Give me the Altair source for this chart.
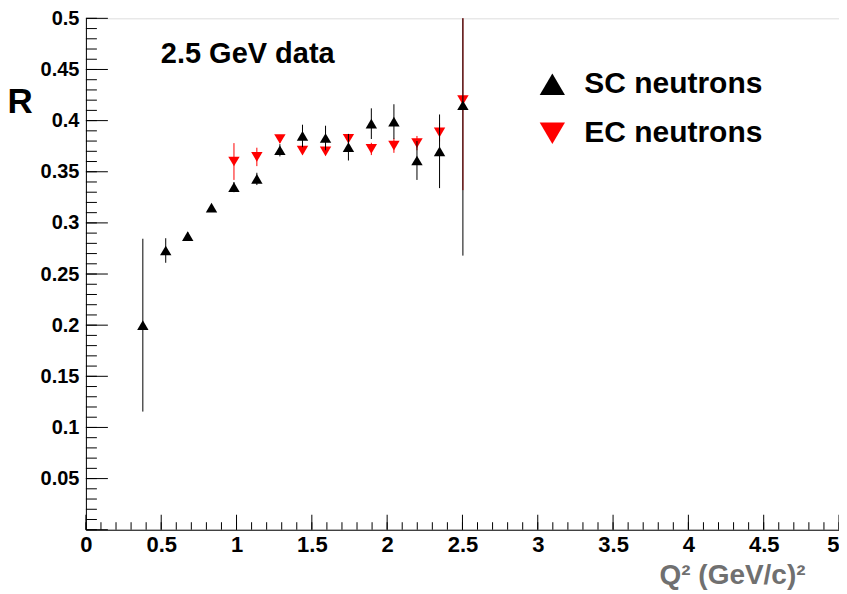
import altair as alt
import pandas as pd

# ---- data ----
q2 = [0.378, 0.530, 0.676, 0.834, 0.983, 1.135, 1.288, 1.438, 1.591, 1.743,
      1.895, 2.045, 2.198, 2.348, 2.503]
sc_r = [0.200, 0.273, 0.287, 0.315, 0.335, 0.343, 0.371, 0.385, 0.383, 0.374,
        0.397, 0.399, 0.361, 0.370, 0.415]
sc_err = [0.0845, 0.012, 0.004, 0.003, 0.005, 0.006, 0.006, 0.011, 0.012, 0.013,
          0.015, 0.017, 0.019, 0.036, 0.147]
ec_q2 = [0.983, 1.135, 1.288, 1.438, 1.591, 1.743, 1.895, 2.045, 2.198, 2.348, 2.503]
ec_r = [0.360, 0.3645, 0.382, 0.3706, 0.370, 0.3823, 0.3723, 0.3755, 0.378, 0.3885, 0.420]
ec_err = [0.018, 0.009, 0.004, 0.004, 0.004, 0.004, 0.006, 0.007, 0.007, 0.009, 0.088]

series_names = ["SC neutrons", "EC neutrons"]
series_colors = ["#000000", "#ff0000"]
tri_up = "M-1,0.85L0,-0.85L1,0.85Z"
tri_down = "M-1,-0.85L0,0.85L1,-0.85Z"

title_text = "2.5 GeV data"
x_title = "Q\u00b2 (GeV/c)\u00b2"
y_title = "R"

x_major = [0, 0.5, 1, 1.5, 2, 2.5, 3, 3.5, 4, 4.5, 5]
x_minor = [round(i * 0.1, 2) for i in range(51)]
y_major = [0, 0.05, 0.1, 0.15, 0.2, 0.25, 0.3, 0.35, 0.4, 0.45, 0.5]
y_minor = [round(i * 0.01, 3) for i in range(51)]

# ---- tables ----
rows = []
for x, r, e in zip(q2, sc_r, sc_err):
    rows.append({"series": series_names[0], "q2": x, "r": r, "lo": r - e, "hi": r + e})
for x, r, e in zip(ec_q2, ec_r, ec_err):
    rows.append({"series": series_names[1], "q2": x, "r": r, "lo": r - e, "hi": r + e})
df = pd.DataFrame(rows)
df_sc = df[df.series == series_names[0]]
df_ec = df[df.series == series_names[1]]

W, H = 754, 512
xs = alt.Scale(domain=[0, 5], nice=False, zero=False)
ys = alt.Scale(domain=[0, 0.5], nice=False, zero=False)

FONT = "Liberation Sans"

legend = alt.Legend(
    orient="none", legendX=452, legendY=51, title=None,
    symbolSize=640, labelFontSize=30, labelFontWeight="bold", labelFont=FONT,
    labelColor="black", rowPadding=19, labelOffset=17, padding=0,
    symbolStrokeWidth=0, labelLimit=400,
)

color = alt.Color("series:N", scale=alt.Scale(domain=series_names, range=series_colors), legend=legend)
shape = alt.Shape("series:N", scale=alt.Scale(domain=series_names, range=[tri_up, tri_down]), legend=legend)

x_axis = alt.Axis(
    values=x_major, format=".1~f", ticks=False, grid=False, labelFlush=False,
    labelAlign={"condition": {"test": "datum.value >= 5", "value": "right"}, "value": "center"},
    labelFont=FONT, labelFontSize=22, labelFontWeight="bold", labelColor="black",
    labelPadding=5, labelBaseline="top",
    title=x_title, titleFont=FONT, titleFontSize=28, titleFontWeight="bold",
    titleColor="#707070", titleAnchor="end", titleAlign="right", titleX=720,
    titleY=54, titleBaseline="alphabetic",
    domainColor="black", domainWidth=1,
)
y_axis = alt.Axis(
    values=y_major, format=".2~f", ticks=False, grid=False, labelFlush=False,
    labelExpr="datum.value == 0 ? '' : datum.label",
    labelFont=FONT, labelFontSize=20, labelFontWeight="bold", labelColor="black",
    labelPadding=7, labelBaseline="middle",
    title=y_title, titleFont=FONT, titleFontSize=35, titleFontWeight="bold",
    titleColor="black", titleAngle=0, titleAlign="left", titleX=-79, titleY=94,
    titleBaseline="alphabetic",
    domainColor="black", domainWidth=1,
)

# tick marks pointing inward (ROOT style)
def yticks(vals, length):
    return alt.Chart(pd.DataFrame({"v": vals})).mark_rule(color="black", strokeWidth=1).encode(
        y=alt.Y("v:Q", scale=ys, axis=y_axis), x=alt.value(0), x2=alt.value(length))

def xticks(vals, length):
    return alt.Chart(pd.DataFrame({"v": vals})).mark_rule(color="black", strokeWidth=1).encode(
        x=alt.X("v:Q", scale=xs, axis=x_axis), y=alt.value(H), y2=alt.value(H - length))

def errs(d, col):
    return alt.Chart(d).mark_rule(color=col, strokeWidth=1, clip=True).encode(
        x=alt.X("q2:Q", scale=xs, axis=x_axis),
        y=alt.Y("lo:Q", scale=ys, axis=y_axis), y2="hi:Q")

def pts(d):
    return alt.Chart(d).mark_point(filled=True, size=130, opacity=1, strokeWidth=0).encode(
        x=alt.X("q2:Q", scale=xs, axis=x_axis),
        y=alt.Y("r:Q", scale=ys, axis=y_axis),
        color=color, shape=shape,
    )

label = alt.Chart(pd.DataFrame({"t": [title_text]})).mark_text(
    font=FONT, fontSize=29, fontWeight="bold", color="black", align="left", baseline="alphabetic"
).encode(x=alt.value(75), y=alt.value(45), text="t:N")

chart = alt.layer(
    yticks(y_minor, 11), yticks(y_major, 22), xticks(x_minor, 7.5), xticks(x_major, 15),
    errs(df_ec, "red"), pts(df_ec), errs(df_sc, "black"), pts(df_sc), label,
).properties(
    width=W, height=H,
    autosize=alt.AutoSizeParams(type="none"),
    padding={"left": 78, "top": 10, "right": 0, "bottom": 60},
).configure_view(stroke="black", strokeWidth=1).configure(background="white")

chart.save("out.html", embed_options={"renderer": "svg", "actions": False})
